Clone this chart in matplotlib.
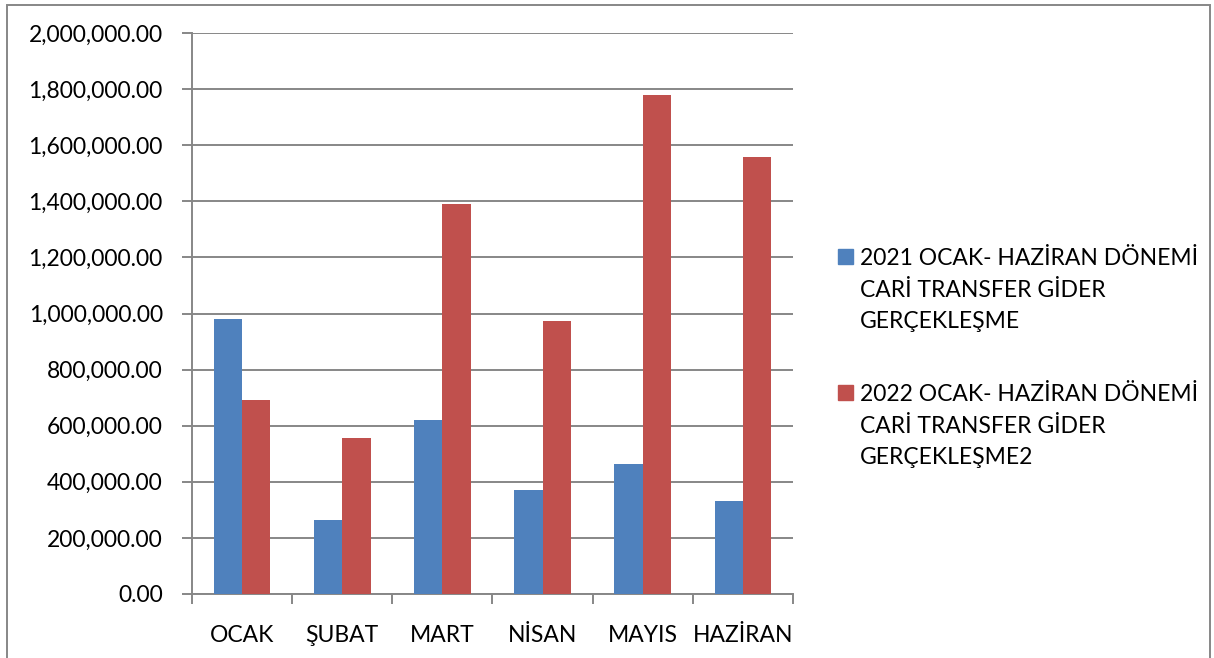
import matplotlib
matplotlib.use("Agg")
import matplotlib.pyplot as plt
import numpy as np
from matplotlib.patches import Rectangle
from matplotlib.ticker import FuncFormatter, MultipleLocator

months = ["OCAK", "ŞUBAT", "MART", "NİSAN", "MAYIS", "HAZİRAN"]
values_2021 = [982000, 264000, 621000, 370000, 464000, 331000]
values_2022 = [692000, 556000, 1392000, 975000, 1779000, 1559000]
label_2021 = "2021 OCAK- HAZİRAN DÖNEMİ\nCARİ TRANSFER GİDER\nGERÇEKLEŞME"
label_2022 = "2022 OCAK- HAZİRAN DÖNEMİ\nCARİ TRANSFER GİDER\nGERÇEKLEŞME2"

BLUE = "#4F81BD"
RED = "#C0504D"
GRID = "#878787"
W, H = 1214, 658
FS = 16.5

plt.rcParams["font.family"] = ["Lato", "DejaVu Sans"]

fig = plt.figure(figsize=(W / 100, H / 100), dpi=100)
ax = fig.add_axes([192 / W, 1 - 594 / H, 601 / W, 561 / H])

x = np.arange(len(months))
w = 0.283
ax.bar(x - w / 2, values_2021, w, color=BLUE, zorder=3)
ax.bar(x + w / 2, values_2022, w, color=RED, zorder=3)

ax.set_xlim(-0.5, len(months) - 0.5)
ax.set_ylim(0, 2000000)
ax.yaxis.set_major_locator(MultipleLocator(200000))
ax.yaxis.set_major_formatter(FuncFormatter(lambda v, _: f"{v:,.2f}"))
ax.grid(axis="y", color=GRID, lw=1.4, zorder=0)

ax.set_xticks(x)
ax.set_xticklabels(months)
ax.set_xticks(np.arange(len(months) + 1) - 0.5, minor=True)
ax.tick_params(axis="x", which="major", length=0, pad=22, labelsize=FS)
ax.tick_params(axis="x", which="minor", length=7, color=GRID, width=1.4)
ax.tick_params(axis="y", length=7, color=GRID, width=1.4, pad=14, labelsize=FS)

for side in ("top", "right"):
    ax.spines[side].set_visible(False)
for side in ("left", "bottom"):
    ax.spines[side].set_color(GRID)
    ax.spines[side].set_linewidth(1.4)

# legend drawn by hand so the swatch sits on the first text line
for label, color, top in ((label_2021, BLUE, 249), (label_2022, RED, 385)):
    fig.patches.append(Rectangle((838 / W, 1 - (top + 15) / H), 15 / W, 15 / H,
                                 transform=fig.transFigure, color=color))
    fig.text(860 / W, 1 - (top - 1) / H, label, fontsize=FS, va="top",
             ha="left", linespacing=1.62)

# chart frame; its bottom edge runs off the picture like in the original
fig.patches.append(Rectangle((7 / W, -0.05), 1203 / W, 1.05 - 5 / H,
                             transform=fig.transFigure, fill=False,
                             edgecolor=GRID, lw=1.4))

fig.savefig("out.png", dpi=100)
